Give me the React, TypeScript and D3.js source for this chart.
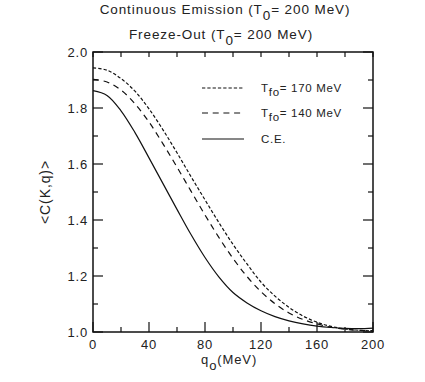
import React from 'react';
import * as d3 from 'd3';

const WIDTH = 425;
const HEIGHT = 382;

const MARGIN = {
  top: 52,
  right: 52,
  bottom: 50,
  left: 93,
};

// q0 in MeV
const Q_VALUES = [0, 10, 20, 30, 40, 50, 60, 70, 80, 90, 100, 110, 120, 130, 140, 150, 160, 170, 180, 190, 200];

// <C(K,q)>
const FO_170 = [1.943, 1.935, 1.905, 1.86, 1.797, 1.722, 1.64, 1.555, 1.472, 1.39, 1.313, 1.243, 1.178, 1.128, 1.088, 1.057, 1.035, 1.02, 1.011, 1.006, 1.004];
const FO_140 = [1.902, 1.893, 1.864, 1.815, 1.75, 1.672, 1.589, 1.503, 1.418, 1.337, 1.263, 1.198, 1.144, 1.101, 1.068, 1.045, 1.029, 1.017, 1.01, 1.006, 1.005];
const CE = [1.862, 1.845, 1.79, 1.712, 1.622, 1.53, 1.438, 1.348, 1.266, 1.196, 1.141, 1.104, 1.076, 1.055, 1.04, 1.029, 1.021, 1.016, 1.013, 1.012, 1.014];

const X_TICKS = [0, 40, 80, 120, 160, 200];
const Y_TICKS = [1.0, 1.2, 1.4, 1.6, 1.8, 2.0];

const SERIES = [
  { name: '170', values: FO_170, dash: '3.3,2' },
  { name: '140', values: FO_140, dash: '6,4.7' },
  { name: 'C.E.', values: CE, dash: null },
];

const FONT = '"Liberation Sans", Arial, sans-serif';

export default function App() {
  const x = d3.scaleLinear()
    .domain([0, 200])
    .range([MARGIN.left, WIDTH - MARGIN.right]);

  const y = d3.scaleLinear()
    .domain([1.0, 2.0])
    .range([HEIGHT - MARGIN.bottom, MARGIN.top]);

  const line = d3.line<number>()
    .x((d, i) => x(Q_VALUES[i]))
    .y(d => y(d))
    .curve(d3.curveCatmullRom);

  const x0 = x(0), x1 = x(200), y0 = y(1.0), y1 = y(2.0);

  const xMinor = d3.range(0, 201, 20);
  const yMinor = d3.range(10, 21).map(v => v / 10);

  const legendX = 202;
  const legendRows = [88, 113, 139];

  return (
    <svg width={WIDTH} height={HEIGHT}
      style={{ position: 'absolute', left: 0, top: 0, background: '#fff' }}
      fontFamily={FONT}>
      {/* titles */}
      <text x={225} y={14} fontSize={13.5} textAnchor="middle" letterSpacing={0.9} fill="#222">
        Continuous Emission (T<tspan dy={6}>0</tspan><tspan dy={-6}>= 200 MeV)</tspan>
      </text>
      <text x={221} y={39} fontSize={13.5} textAnchor="middle" letterSpacing={0.9} fill="#222">
        Freeze-Out (T<tspan dy={6}>0</tspan><tspan dy={-6}>= 200 MeV)</tspan>
      </text>

      {/* curves */}
      {SERIES.map(s => (
        <path key={s.name} d={line(s.values) || ''} fill="none" stroke="#111"
          strokeWidth={1.2} strokeDasharray={s.dash || undefined} />
      ))}

      {/* frame */}
      <rect x={x0} y={y1} width={x1 - x0} height={y0 - y1} fill="none" stroke="#111" strokeWidth={1.5} />

      {/* bottom ticks */}
      {xMinor.map(v => (
        <line key={'b' + v} x1={x(v)} x2={x(v)} y1={y0} y2={y0 - (v % 40 === 0 ? 10 : 5)}
          stroke="#111" strokeWidth={1.2} />
      ))}
      {/* top ticks */}
      {xMinor.map(v => (
        <line key={'t' + v} x1={x(v)} x2={x(v)} y1={y1} y2={y1 + 5} stroke="#111" strokeWidth={1.2} />
      ))}
      {/* left and right ticks */}
      {yMinor.map((v, i) => (
        <g key={'y' + i}>
          <line x1={x0} x2={x0 + (i % 2 === 0 ? 10 : 5)} y1={y(v)} y2={y(v)} stroke="#111" strokeWidth={1.2} />
          <line x1={x1} x2={x1 - (i % 2 === 0 ? 10 : 5)} y1={y(v)} y2={y(v)} stroke="#111" strokeWidth={1.2} />
        </g>
      ))}

      {/* tick labels */}
      {X_TICKS.map(v => (
        <text key={'xl' + v} x={x(v)} y={348.5} fontSize={13} textAnchor="middle" letterSpacing={0.8} fill="#222">
          {v}
        </text>
      ))}
      {Y_TICKS.map(v => (
        <text key={'yl' + v} x={88} y={y(v) + 4.5} fontSize={13} textAnchor="end" letterSpacing={0.8} fill="#222">
          {v.toFixed(1)}
        </text>
      ))}

      {/* axis titles */}
      <text x={201} y={363.5} fontSize={13} letterSpacing={0.9} fill="#222">
        q<tspan dy={6}>o</tspan><tspan dy={-6}>(MeV)</tspan>
      </text>
      <text transform={`translate(50, ${y(1.5)}) rotate(-90)`} fontSize={14} textAnchor="middle"
        letterSpacing={0.9} fill="#222">
        {'<C(K,q)>'}
      </text>

      {/* legend */}
      {SERIES.map((s, i) => (
        <g key={'lg' + s.name}>
          <line x1={legendX} x2={legendX + 42} y1={legendRows[i]} y2={legendRows[i]} stroke="#111"
            strokeWidth={1.2} strokeDasharray={s.dash || undefined} />
          <text x={261} y={legendRows[i] + 4} fontSize={11.5} letterSpacing={0.7} fill="#222">
            {s.dash ? (
              <>T<tspan dy={4}>fo</tspan><tspan dy={-4}>= {s.name} MeV</tspan></>
            ) : s.name}
          </text>
        </g>
      ))}
    </svg>
  );
}
